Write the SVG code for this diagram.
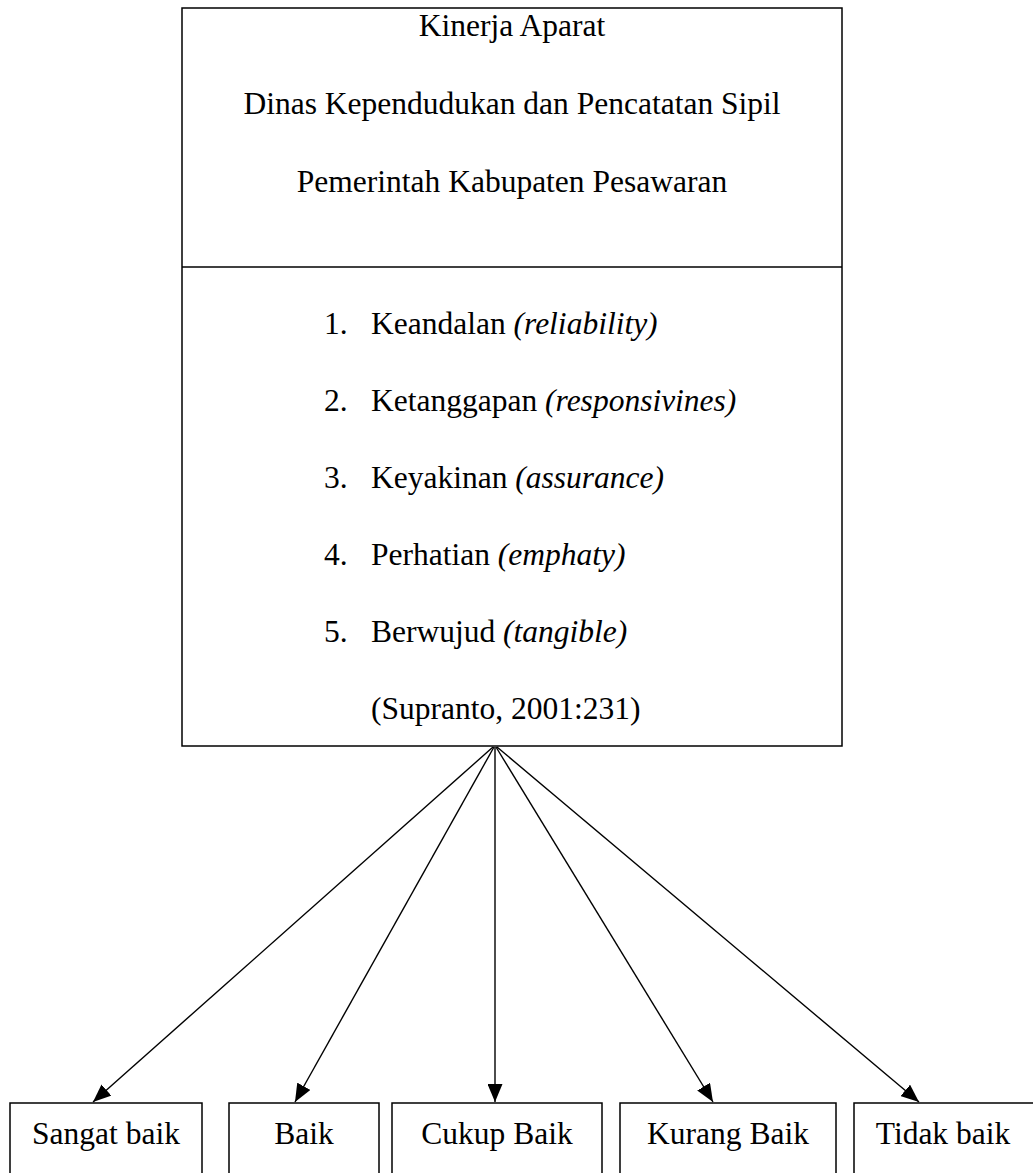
<svg xmlns="http://www.w3.org/2000/svg" width="1033" height="1173" viewBox="0 0 1033 1173">
<style>
.box{fill:#fff;stroke:#000;stroke-width:1.5}
.t{font-family:"Liberation Serif","Times New Roman",serif;font-size:31.5px;fill:#000}
.c{text-anchor:middle}
.i{font-style:italic}
.edge{stroke:#000;stroke-width:1.4;fill:none;marker-end:url(#arr)}
</style>
<defs>
<marker id="arr" markerUnits="userSpaceOnUse" markerWidth="19" markerHeight="15" viewBox="0 0 19 15" refX="18" refY="7.5" orient="auto">
<path d="M0,0 L18,7.5 L0,15 Z" fill="#000"/>
</marker>
</defs>
<rect width="1033" height="1173" fill="#fff"/>
<g id="main">
<rect class="box" x="182" y="8" width="660" height="738"/>
<line x1="182" y1="267" x2="842" y2="267" stroke="#000" stroke-width="1.5"/>
<text class="t c" x="512" y="36">Kinerja Aparat</text>
<text class="t c" x="512" y="114">Dinas Kependudukan dan Pencatatan Sipil</text>
<text class="t c" x="512" y="192">Pemerintah Kabupaten Pesawaran</text>
<text class="t" x="324" y="334">1.</text><text class="t" x="371" y="334">Keandalan <tspan class="i">(reliability)</tspan></text>
<text class="t" x="324" y="411">2.</text><text class="t" x="371" y="411">Ketanggapan <tspan class="i">(responsivines)</tspan></text>
<text class="t" x="324" y="488">3.</text><text class="t" x="371" y="488">Keyakinan <tspan class="i">(assurance)</tspan></text>
<text class="t" x="324" y="565">4.</text><text class="t" x="371" y="565">Perhatian <tspan class="i">(emphaty)</tspan></text>
<text class="t" x="324" y="642">5.</text><text class="t" x="371" y="642">Berwujud <tspan class="i">(tangible)</tspan></text>
<text class="t" x="371" y="719">(Supranto, 2001:231)</text>
</g>
<g id="connectors">
<line class="edge" x1="493" y1="747" x2="93" y2="1102"/>
<line class="edge" x1="494" y1="747" x2="295" y2="1102"/>
<line class="edge" x1="495" y1="747" x2="495" y2="1102"/>
<line class="edge" x1="496" y1="747" x2="713" y2="1102"/>
<line class="edge" x1="497" y1="747" x2="919" y2="1102"/>
</g>
<g id="n1"><rect class="box" x="10" y="1103" width="192" height="80"/><text class="t c" x="106" y="1144">Sangat baik</text></g>
<g id="n2"><rect class="box" x="229" y="1103" width="150" height="80"/><text class="t c" x="304" y="1144">Baik</text></g>
<g id="n3"><rect class="box" x="392" y="1103" width="210" height="80"/><text class="t c" x="497" y="1144">Cukup Baik</text></g>
<g id="n4"><rect class="box" x="620" y="1103" width="216" height="80"/><text class="t c" x="728" y="1144">Kurang Baik</text></g>
<g id="n5"><rect class="box" x="854" y="1103" width="190" height="80"/><text class="t c" x="943" y="1144">Tidak baik</text></g>
</svg>
